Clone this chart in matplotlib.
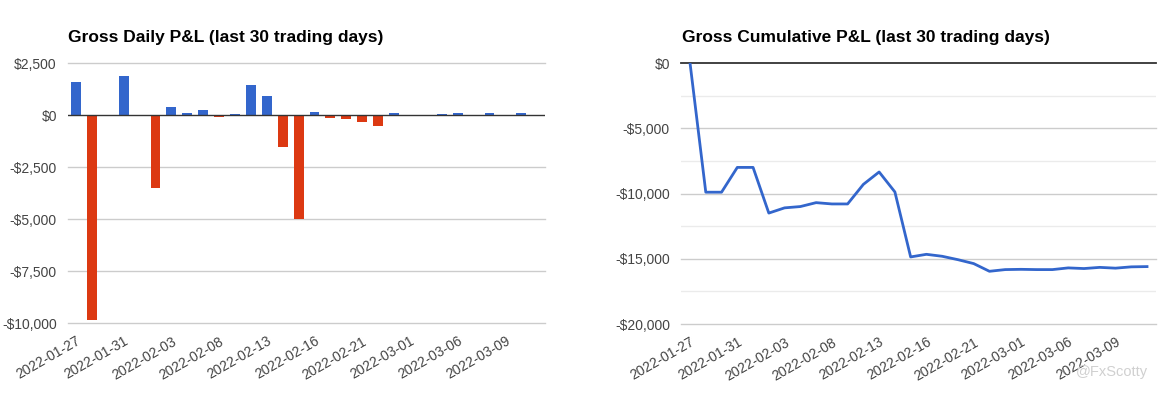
import matplotlib
matplotlib.use("Agg")
import matplotlib.pyplot as plt
import numpy as np

# daily gross P&L, 30 trading days
daily = [1570, -9870, 20, 1890, 10, -3500, 384, 100, 256, -96,
         40, 1456, 930, -1536, -4976, 144, -144, -208, -352, -512,
         80, 20, 10, 30, 90, -20, 110, -20, 80, 10]

# cumulative gross P&L, 30 points
cumulative = [0, -9900, -9900, -8000, -8000, -11500, -11100, -11000, -10700, -10800,
              -10800, -9300, -8350, -9880, -14860, -14660, -14810, -15070, -15370, -15960,
              -15830, -15810, -15830, -15830, -15700, -15750, -15660, -15720, -15620, -15600]

tick_labels = ["2022-01-27", "2022-01-31", "2022-02-03", "2022-02-08", "2022-02-13",
               "2022-02-16", "2022-02-21", "2022-03-01", "2022-03-06", "2022-03-09"]
tick_pos = [0, 3, 6, 9, 12, 15, 18, 21, 24, 27]

daily_yticks = [2500, 0, -2500, -5000, -7500, -10000]
cum_yticks = [0, -5000, -10000, -15000, -20000]

BLUE = "#3366cc"
RED = "#dc3912"
TXT = "#444444"

plt.rcParams['font.family'] = ['Liberation Sans', 'DejaVu Sans']


def money(v):
    return "-${:,}".format(abs(v)) if v < 0 else "${:,}".format(v)


def style(ax, yticks):
    for s in ax.spines.values():
        s.set_visible(False)
    ax.tick_params(length=0, colors=TXT, labelsize=10)
    ax.set_yticks(yticks)
    ax.set_yticklabels([money(v) for v in yticks])
    ax.set_xticks(tick_pos)
    ax.set_xticklabels(tick_labels, rotation=30, ha='right', rotation_mode='anchor')
    ax.tick_params(axis='x', pad=8)
    ax.tick_params(axis='y', pad=8)


fig = plt.figure(figsize=(11.61, 3.98), dpi=100)

# left: daily bars
ax1 = fig.add_axes([0.0586, 0.1884, 0.4109, 0.6533])
x = np.arange(len(daily))
cols = [BLUE if v >= 0 else RED for v in daily]
for v in daily_yticks:
    if v != 0:
        ax1.axhline(v, color="#cccccc", lw=1, zorder=0, clip_on=False)
ax1.bar(x, daily, width=0.62, color=cols, zorder=2)
ax1.axhline(0, color="#333333", lw=1, zorder=3)
ax1.set_xlim(-0.5, len(daily) - 0.5)
ax1.set_ylim(-10000, 2500)
style(ax1, daily_yticks)

# right: cumulative line
ax2 = fig.add_axes([0.5866, 0.1859, 0.4091, 0.6558])
for v in range(-17500, 0, 5000):
    ax2.axhline(v, color="#ebebeb", lw=1, zorder=0)
for v in cum_yticks:
    if v != 0:
        ax2.axhline(v, color="#cccccc", lw=1, zorder=0, clip_on=False)
ax2.axhline(0, color="#333333", lw=1.3, zorder=1, clip_on=False)
ax2.plot(np.arange(len(cumulative)), cumulative, color=BLUE, lw=2, zorder=3)
ax2.set_xlim(-0.57, len(cumulative) - 0.43)
ax2.set_ylim(-20000, 0)
style(ax2, cum_yticks)

fig.text(68 / 1161, 1 - 42 / 398, "Gross Daily P&L (last 30 trading days)",
         fontsize=12.5, fontweight='bold', va='baseline', ha='left', color='black')
fig.text(682 / 1161, 1 - 42 / 398, "Gross Cumulative P&L (last 30 trading days)",
         fontsize=12.5, fontweight='bold', va='baseline', ha='left', color='black')

fig.text(1148 / 1161, 1 - 376 / 398, "@FxScotty", fontsize=10.5, color="#d0d0d0",
         ha='right', va='baseline')

fig.savefig("out.png", dpi=100)
